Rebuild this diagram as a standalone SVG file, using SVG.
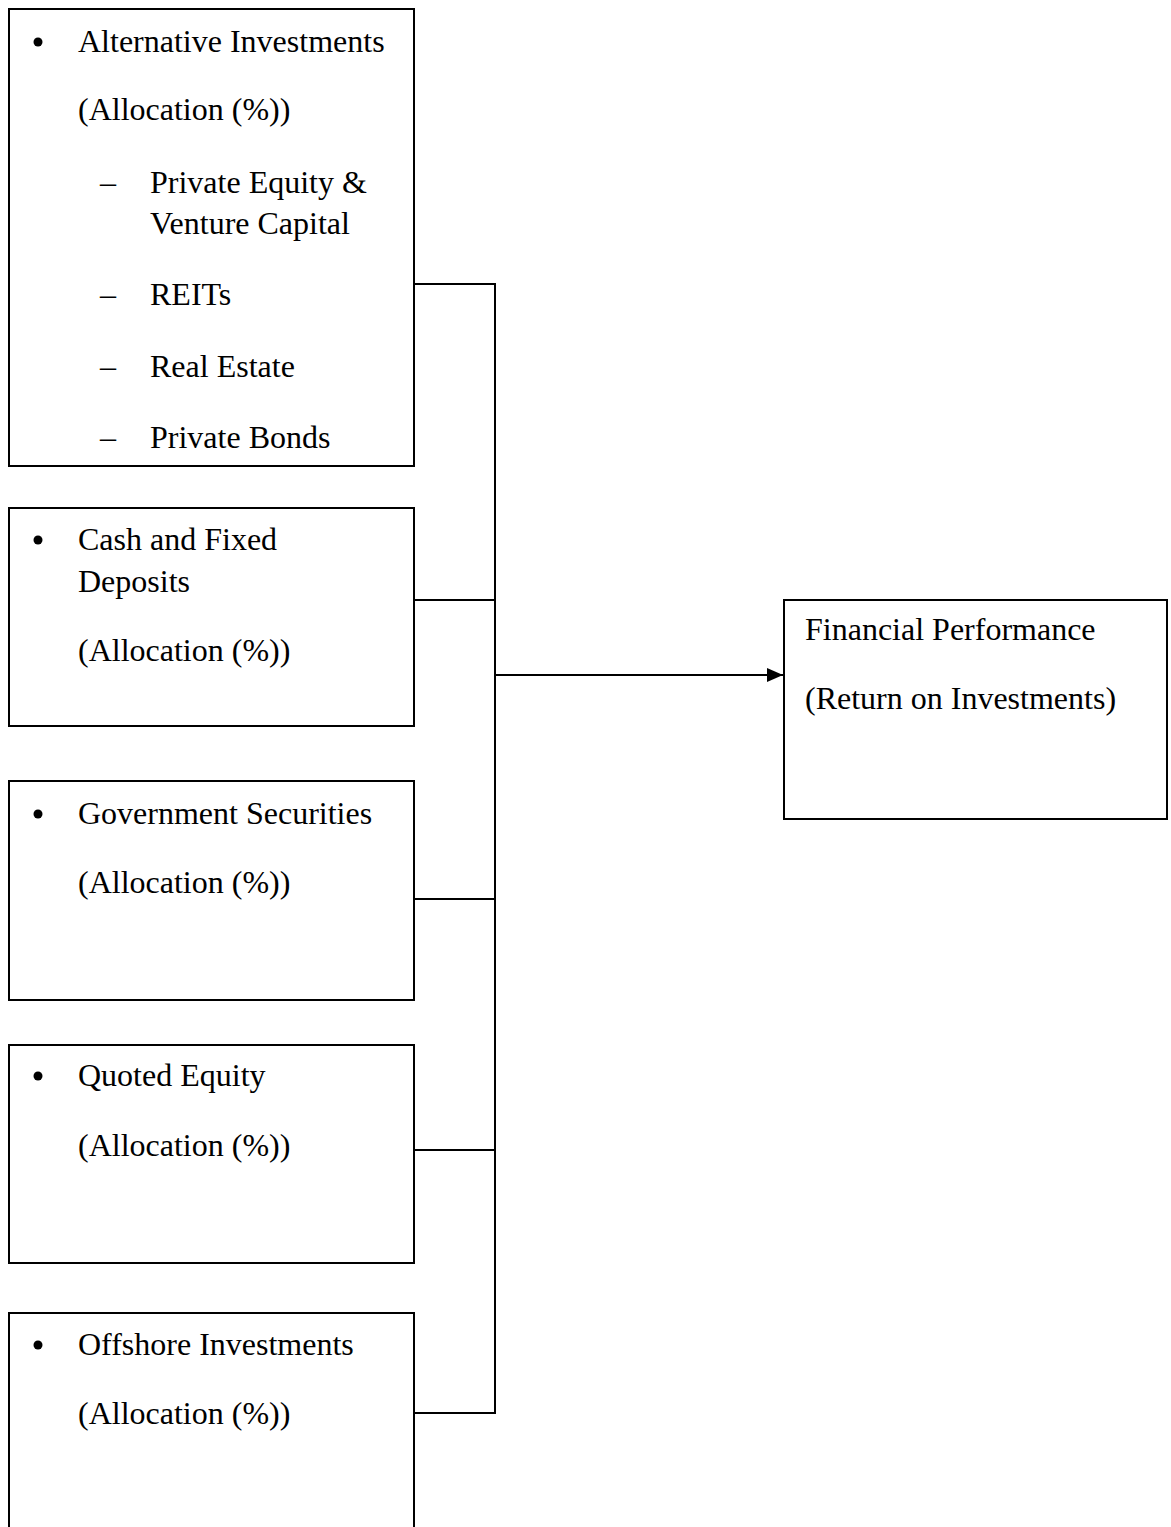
<svg xmlns="http://www.w3.org/2000/svg" width="1171" height="1527" viewBox="0 0 1171 1527">
<defs>
<style>
.box{fill:#fff;stroke:#000;stroke-width:2}
.t{font-family:"Liberation Serif","Times New Roman",serif;font-size:32px;fill:#000}
.b{fill:#000}
.c{fill:none;stroke:#000;stroke-width:2}
</style>
<marker id="arr" markerWidth="16" markerHeight="14" refX="16" refY="7" orient="auto" markerUnits="userSpaceOnUse" viewBox="0 0 16 14">
<path d="M0,0 L16,7 L0,14 z" fill="#000"/>
</marker>
</defs>
<rect width="1171" height="1527" fill="#fff"/>
<g id="connectors">
<path class="c" d="M414,284 H495 V1413 H414"/>
<path class="c" d="M414,600 H495"/>
<path class="c" d="M414,899 H495"/>
<path class="c" d="M414,1150 H495"/>
<path class="c" d="M495,675 H783" marker-end="url(#arr)"/>
</g>
<g id="alternative">
<rect class="box" x="9" y="9" width="405" height="457"/>
<circle class="b" cx="38" cy="42" r="4.5"/>
<text class="t" x="78" y="52">Alternative Investments</text>
<text class="t" x="78" y="120">(Allocation (%))</text>
<text class="t" x="100" y="193">–</text>
<text class="t" x="150" y="193">Private Equity &amp;</text>
<text class="t" x="150" y="234">Venture Capital</text>
<text class="t" x="100" y="305">–</text>
<text class="t" x="150" y="305">REITs</text>
<text class="t" x="100" y="377">–</text>
<text class="t" x="150" y="377">Real Estate</text>
<text class="t" x="100" y="448">–</text>
<text class="t" x="150" y="448">Private Bonds</text>
</g>
<g id="cash">
<rect class="box" x="9" y="508" width="405" height="218"/>
<circle class="b" cx="38" cy="540" r="4.5"/>
<text class="t" x="78" y="550">Cash and Fixed</text>
<text class="t" x="78" y="592">Deposits</text>
<text class="t" x="78" y="661">(Allocation (%))</text>
</g>
<g id="government">
<rect class="box" x="9" y="781" width="405" height="219"/>
<circle class="b" cx="38" cy="814" r="4.5"/>
<text class="t" x="78" y="824">Government Securities</text>
<text class="t" x="78" y="893">(Allocation (%))</text>
</g>
<g id="quoted">
<rect class="box" x="9" y="1045" width="405" height="218"/>
<circle class="b" cx="38" cy="1076" r="4.5"/>
<text class="t" x="78" y="1086">Quoted Equity</text>
<text class="t" x="78" y="1156">(Allocation (%))</text>
</g>
<g id="offshore">
<rect class="box" x="9" y="1313" width="405" height="240"/>
<circle class="b" cx="38" cy="1345" r="4.5"/>
<text class="t" x="78" y="1355">Offshore Investments</text>
<text class="t" x="78" y="1424">(Allocation (%))</text>
</g>
<g id="performance">
<rect class="box" x="784" y="600" width="383" height="219"/>
<text class="t" x="805" y="640">Financial Performance</text>
<text class="t" x="805" y="709">(Return on Investments)</text>
</g>
</svg>
